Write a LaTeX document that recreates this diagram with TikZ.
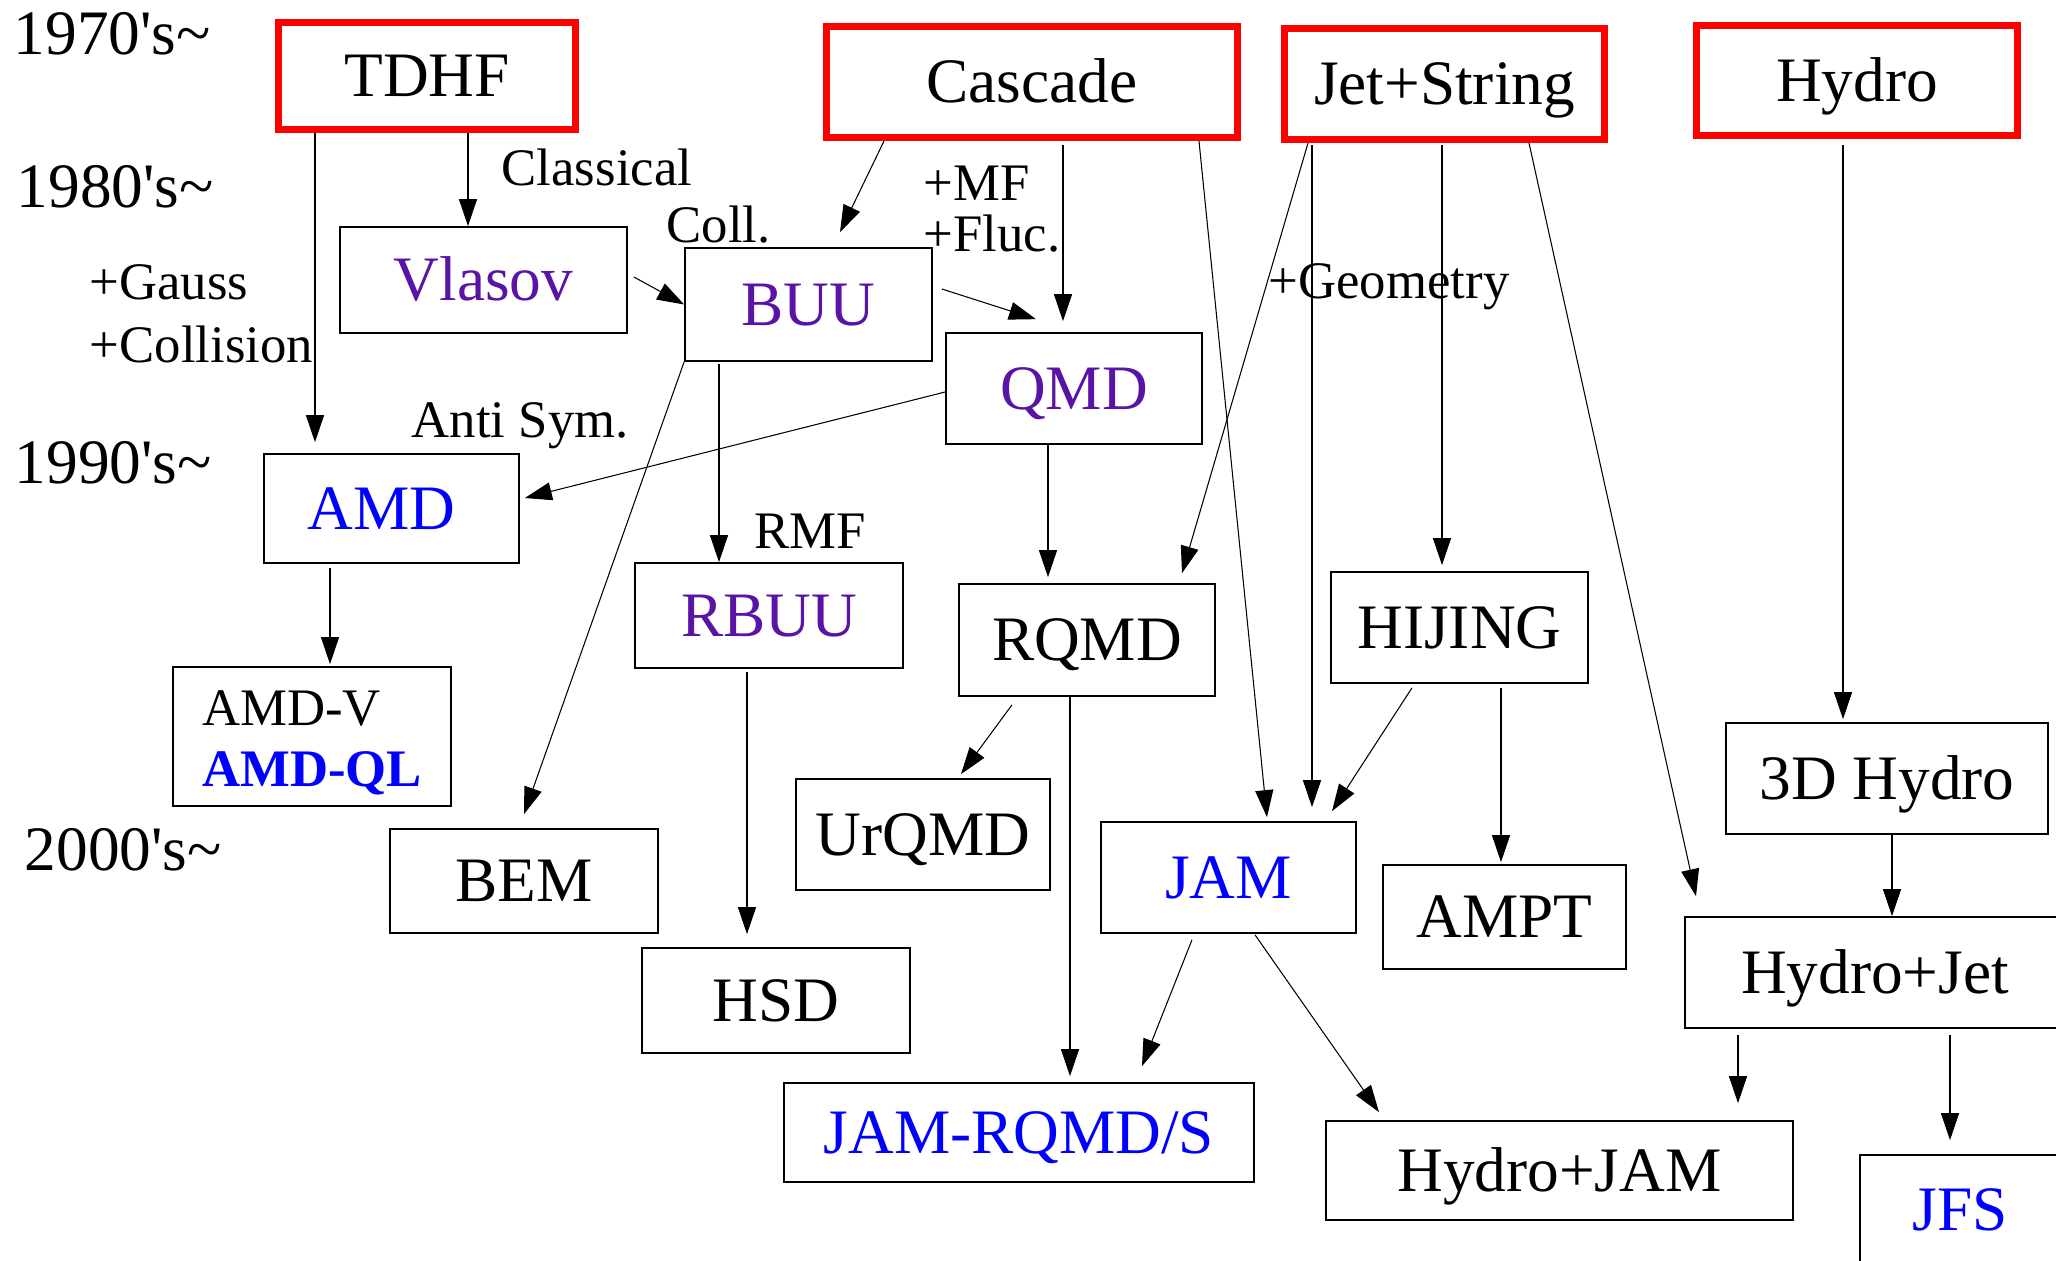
\documentclass[tikz,border=0pt]{standalone}
\usepackage{fontspec}
\setmainfont{Liberation Serif}
\usetikzlibrary{arrows.meta,calc}
\definecolor{purp}{RGB}{90,20,165}

\begin{document}
\begin{tikzpicture}[
    x=0.01cm, y=-0.01cm,
    >={Triangle[length=2.7mm,width=1.8mm]},
    frame/.style={
        draw=black,
        line width=0.45pt,
        inner sep=0pt
    },
    box/.style={
        frame,
        text height=11.9pt,
        text depth=0pt,
        font=\fontsize{18}{22}\selectfont
    },
    root/.style={box, draw=red, line width=2pt},
    arr/.style={->, line width=0.3pt},
    lab/.style={anchor=base west, inner sep=0pt, font=\fontsize{15}{18}\selectfont},
    year/.style={anchor=base west, inner sep=0pt, font=\fontsize{18}{22}\selectfont}
]
    \useasboundingbox (0,0) rectangle (2056,1261);

    \node[year] (y70) at (13,55) {1970\textquotesingle s\textasciitilde};
    \node[year] (y80) at (16,208) {1980\textquotesingle s\textasciitilde};
    \node[year] (y90) at (14,484) {1990\textquotesingle s\textasciitilde};
    \node[year] (y00) at (24,871) {2000\textquotesingle s\textasciitilde};

    \node[root, minimum width=2.97cm, minimum height=1.07cm] (TDHF) at (427,76) {TDHF};
    \node[root, minimum width=4.10cm, minimum height=1.11cm] (Cascade) at (1032,82) {Cascade};
    \node[root, minimum width=3.20cm, minimum height=1.11cm] (JetStr) at (1444.5,84) {Jet+String};
    \node[root, minimum width=3.21cm, minimum height=1.10cm] (Hydro) at (1857,80.5) {Hydro};

    \node[box, text=purp, minimum width=2.87cm, minimum height=1.06cm] (Vlasov) at (483.5,280) {Vlasov};
    \node[box, text=purp, minimum width=2.47cm, minimum height=1.13cm] (BUU) at (808.5,304.5) {BUU};
    \node[box, text=purp, minimum width=2.56cm, minimum height=1.11cm] (QMD) at (1074,388.5) {QMD};
    \node[box, text=blue, minimum width=2.55cm, minimum height=1.09cm] (AMD) at (391.5,508.5) {AMD\kern0.2cm};
    \node[box, text=purp, minimum width=2.68cm, minimum height=1.05cm] (RBUU) at (769,615.5) {RBUU};
    \node[box, minimum width=2.56cm, minimum height=1.12cm] (RQMD) at (1087,640) {RQMD};
    \node[box, minimum width=2.57cm, minimum height=1.11cm] (HIJING) at (1459.5,627.5) {HIJING};
    \node[frame, align=left, font=\fontsize{15}{17.3}\selectfont,
        minimum width=2.78cm, minimum height=1.39cm] (AMDV) at (312,736.5)
        {\rule{0pt}{0.48cm}AMD-V\\\textcolor{blue}{\bfseries AMD-QL}};
    \node[box, minimum width=2.68cm, minimum height=1.04cm] (BEM) at (524,881) {BEM};
    \node[box, minimum width=2.54cm, minimum height=1.11cm] (UrQMD) at (923,834.5) {UrQMD};
    \node[box, minimum width=2.68cm, minimum height=1.05cm] (HSD) at (776,1000.5) {HSD};
    \node[box, text=blue, minimum width=2.55cm, minimum height=1.11cm] (JAM) at (1228.5,877.5) {JAM};
    \node[box, minimum width=2.43cm, minimum height=1.04cm] (AMPT) at (1504.5,917) {AMPT};
    \node[box, minimum width=3.22cm, minimum height=1.11cm] (Hydro3D) at (1887,778.5) {3D Hydro};
    \node[box, minimum width=3.80cm, minimum height=1.11cm] (HydroJet) at (1875,972.5) {Hydro+Jet};
    \node[box, text=blue, minimum width=4.70cm, minimum height=0.99cm] (JAMRQMD) at (1019,1132.5) {JAM-RQMD/S};
    \node[box, minimum width=4.67cm, minimum height=0.99cm] (HydroJAM) at (1559.5,1170.5) {Hydro+JAM};
    \node[box, text=blue, minimum width=2.00cm, minimum height=1.10cm] (JFS) at (1960,1210) {JFS};

    \node[lab] (classical) at (501,186) {Classical};
    \node[lab] (coll) at (666,243) {Coll.};
    \node[lab] (mf) at (923,201) {+MF};
    \node[lab] (fluc) at (923,252) {+Fluc.};
    \node[lab] (gauss) at (89,300) {+Gauss};
    \node[lab] (collision) at (89,363) {+Collision};
    \node[lab] (antisym) at (411,438) {Anti Sym.};
    \node[lab] (rmf) at (754,549) {RMF};
    \node[lab] (geometry) at (1268,299) {+Geometry};

    \draw[arr] ($(TDHF.south)+(-112,0)$) -- ($(AMD.north)+(-76.5,-11)$);
    \draw[arr] ($(TDHF.south)+(41,0)$) -- ($(Vlasov.north)+(-15.5,0)$);
    \draw[arr] ($(Vlasov.east)+(6,-3)$) -- (BUU.west);
    \draw[arr] ($(Cascade.south)+(-148,0)$) -- ($(BUU.north)+(31.5,-15)$);
    \draw[arr] ($(BUU.east)+(9,-15.5)$) -- ($(QMD.north)+(-38,-13)$);
    \draw[arr] ($(Cascade.south)+(31,4)$) -- ($(QMD.north)+(-11,-11)$);
    \draw[arr] ($(Cascade.south)+(167,0)$) -- ($(JAM.north)+(38.5,-4)$);
    \draw[arr] ($(JetStr.south)+(-136.5,0)$) -- ($(RQMD.north)+(95,-10)$);
    \draw[arr] ($(JetStr.south)+(-132.5,2)$) -- ($(JAM.north)+(83.5,-14)$);
    \draw[arr] ($(JetStr.south)+(-2.5,2)$) -- ($(HIJING.north)+(-17.5,-6)$);
    \draw[arr] ($(JetStr.south)+(84.5,0)$) -- ($(HydroJet.north)+(-179,-20)$);
    \draw[arr] ($(Hydro.south)+(-14,6)$) -- ($(Hydro3D.north)+(-44,-3)$);
    \draw[arr] (BUU.south west) -- ($(BEM.north)+(0,-14)$);
    \draw[arr] ($(BUU.south)+(-89.5,2)$) -- ($(RBUU.north)+(-50,0)$);
    \draw[arr] ($(QMD.west)+(0,3.5)$) -- ($(AMD.east)+(5,-10.5)$);
    \draw[arr] ($(QMD.south)+(-26,0)$) -- ($(RQMD.north)+(-39,-6)$);
    \draw[arr] ($(AMD.south)+(-61.5,4)$) -- ($(AMDV.north)+(18,-2)$);
    \draw[arr] ($(RBUU.south)+(-22,3)$) -- ($(HSD.north)+(-29,-13)$);
    \draw[arr] ($(RQMD.south)+(-75,8)$) -- ($(UrQMD.north)+(38,-4)$);
    \draw[arr] ($(RQMD.south)+(-17,0)$) -- ($(JAMRQMD.north)+(51,-6)$);
    \draw[arr] ($(HIJING.south)+(-47.5,4)$) -- ($(JAM.north)+(103.5,-10)$);
    \draw[arr] ($(HIJING.south)+(41.5,4)$) -- ($(AMPT.north)+(-3.5,-2)$);
    \draw[arr] ($(Hydro3D.south)+(5,0)$) -- ($(HydroJet.north)+(17,0)$);
    \draw[arr] ($(JAM.south)+(-36.5,6)$) -- ($(JAMRQMD.north)+(123,-16)$);
    \draw[arr] ($(JAM.south)+(26.5,1)$) -- ($(HydroJAM.north)+(-180.5,-8)$);
    \draw[arr] ($(HydroJet.south)+(-137,6)$) -- ($(HydroJAM.north)+(178.5,-17)$);
    \draw[arr] ($(HydroJet.south)+(75,6)$) -- ($(JFS.north)+(-10,-14)$);
\end{tikzpicture}
\end{document}
